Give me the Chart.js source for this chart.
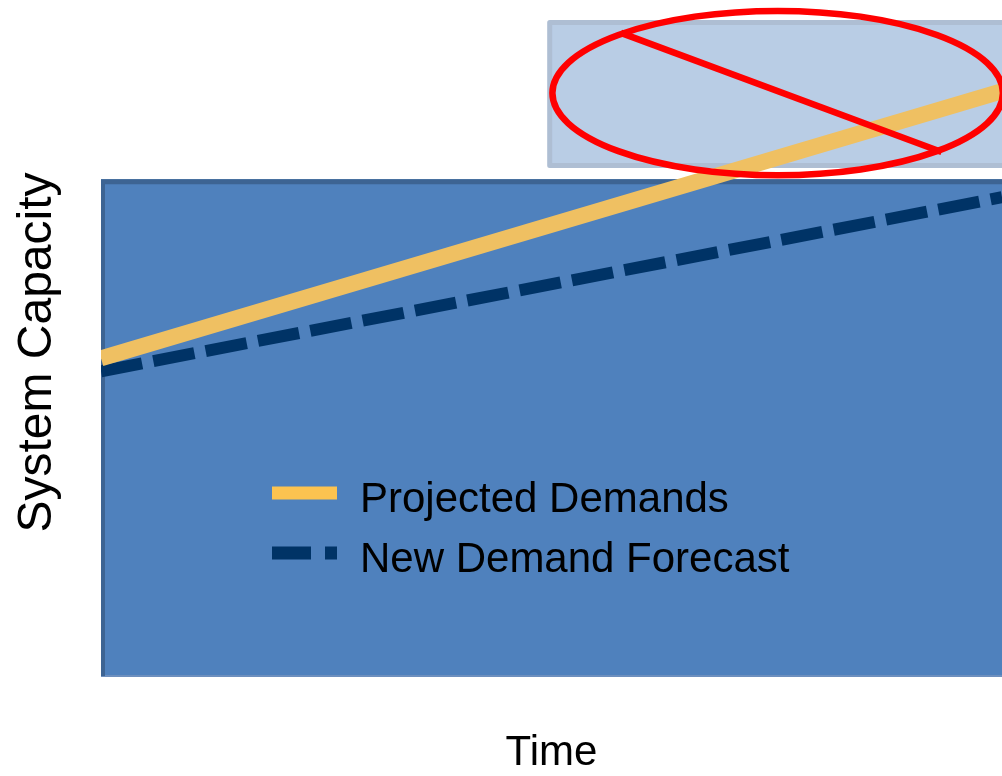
<!DOCTYPE html>
<html>
<head>
<meta charset="utf-8">
<script src="https://cdn.jsdelivr.net/npm/chart.js@4/dist/chart.umd.min.js"></script>
<style>
  html, body { margin: 0; padding: 0; background: #ffffff; }
  #wrap { width: 1002px; height: 776px; }
</style>
</head>
<body>
<div id="wrap"><canvas id="capacityChart"></canvas></div>
<script>
// Axis ranges (arbitrary units: time on x, capacity on y)
const timeRange = [0, 10];
const capacityRange = [0, 100];

// Demand series
const seriesLabels = ['Projected Demands', 'New Demand Forecast'];
const timePoints = [0, 10];
const projectedDemands = [49.1, 90.4];
const newDemandForecast = [47.1, 74.0];

// Capacity blocks: [start, end] in time, [bottom, top] in capacity
const existingCapacityTime = [0, 10];
const existingCapacityLevel = [0, 76.4];
const additionalCapacityTime = [4.98, 10.3];
const additionalCapacityLevel = [78.9, 101.0];

// "Not needed" mark over the additional capacity block
const crossOutCenter = [7.51, 90.1];   // [time, capacity]
const crossOutRadius = [2.50, 12.7];   // [time, capacity]
const crossOutSlashTime = [5.77, 9.33];
const crossOutSlashLevel = [99.4, 81.0];

const FONT = '"Liberation Sans", Arial, Helvetica, sans-serif';

const capacityArt = {
  id: 'capacityArt',
  beforeDatasetsDraw(chart) {
    const { ctx, scales: { x, y } } = chart;
    ctx.save();

    // additional capacity block (light)
    const ax0 = x.getPixelForValue(additionalCapacityTime[0]);
    const ax1 = x.getPixelForValue(additionalCapacityTime[1]);
    const ayB = y.getPixelForValue(additionalCapacityLevel[0]);
    const ayT = y.getPixelForValue(additionalCapacityLevel[1]);
    ctx.fillStyle = '#b9cde5';
    ctx.fillRect(ax0, ayT, ax1 - ax0, ayB - ayT);
    ctx.strokeStyle = '#aebed3';
    ctx.lineWidth = 5;
    ctx.lineJoin = 'round';
    ctx.strokeRect(ax0, ayT, ax1 - ax0, ayB - ayT);

    // existing capacity block
    const ex0 = x.getPixelForValue(existingCapacityTime[0]);
    const ex1 = x.getPixelForValue(existingCapacityTime[1]);
    const eyB = y.getPixelForValue(existingCapacityLevel[0]);
    const eyT = y.getPixelForValue(existingCapacityLevel[1]);
    ctx.fillStyle = '#4f81bd';
    ctx.fillRect(ex0, eyT - 2.5, ex1 - ex0, eyB - eyT + 3.5);
    ctx.lineJoin = 'miter';
    ctx.strokeStyle = '#6d8fbe';
    ctx.lineWidth = 2;
    ctx.beginPath();
    ctx.moveTo(ex0, eyB);
    ctx.lineTo(ex1, eyB);
    ctx.stroke();
    ctx.strokeStyle = '#3d6493';
    ctx.lineWidth = 4;
    ctx.beginPath();
    ctx.moveTo(ex0 + 2, eyB);
    ctx.lineTo(ex0 + 2, eyT);
    ctx.stroke();
    ctx.lineWidth = 5;
    ctx.beginPath();
    ctx.moveTo(ex0, eyT);
    ctx.lineTo(ex1, eyT);
    ctx.stroke();

    ctx.restore();
  },
  afterDatasetsDraw(chart) {
    const { ctx, scales: { x, y } } = chart;
    ctx.save();

    // red ellipse with slash
    const cx = x.getPixelForValue(crossOutCenter[0]);
    const cy = y.getPixelForValue(crossOutCenter[1]);
    const rx = x.getPixelForValue(crossOutCenter[0] + crossOutRadius[0]) - cx;
    const ry = cy - y.getPixelForValue(crossOutCenter[1] + crossOutRadius[1]);
    ctx.strokeStyle = '#ff0000';
    ctx.lineWidth = 6.5;
    ctx.beginPath();
    ctx.ellipse(cx, cy, rx, ry, 0, 0, Math.PI * 2);
    ctx.stroke();
    ctx.beginPath();
    ctx.moveTo(x.getPixelForValue(crossOutSlashTime[0]), y.getPixelForValue(crossOutSlashLevel[0]));
    ctx.lineTo(x.getPixelForValue(crossOutSlashTime[1]), y.getPixelForValue(crossOutSlashLevel[1]));
    ctx.stroke();

    // legend inside the plot
    const opts = chart.options.plugins.capacityArt;
    chart.data.datasets.forEach((ds, i) => {
      const rowY = opts.rows[i];
      ctx.strokeStyle = ds.legendColor || ds.borderColor;
      ctx.lineWidth = opts.sampleWidth;
      ctx.lineCap = 'butt';
      ctx.setLineDash(ds.legendDash || []);
      ctx.beginPath();
      ctx.moveTo(opts.sampleX[0], rowY);
      ctx.lineTo(opts.sampleX[1], rowY);
      ctx.stroke();
      ctx.setLineDash([]);
      ctx.fillStyle = '#000000';
      ctx.font = '42px ' + FONT;
      ctx.textAlign = 'left';
      ctx.textBaseline = 'alphabetic';
      ctx.fillText(ds.label, opts.textX, rowY + opts.baselineOffset);
    });
    ctx.restore();
  }
};

const toPoints = (xs, ys) => xs.map((t, i) => ({ x: t, y: ys[i] }));

new Chart(document.getElementById('capacityChart'), {
  type: 'line',
  data: {
    datasets: [
      {
        label: seriesLabels[0],
        data: toPoints(timePoints, projectedDemands),
        borderColor: '#efc062',
        legendColor: '#fcc350',
        borderWidth: 16,
        borderCapStyle: 'butt',
        pointRadius: 0,
        tension: 0,
        fill: false
      },
      {
        label: seriesLabels[1],
        data: toPoints(timePoints, newDemandForecast),
        borderColor: '#003366',
        borderWidth: 12,
        borderDash: [41.8, 11.5],
        legendDash: [39, 14],
        borderCapStyle: 'butt',
        pointRadius: 0,
        tension: 0,
        fill: false
      }
    ]
  },
  options: {
    responsive: true,
    maintainAspectRatio: false,
    animation: false,
    devicePixelRatio: 1,
    layout: { padding: { top: 29, left: 0, right: 0, bottom: 0 } },
    scales: {
      x: {
        type: 'linear',
        min: timeRange[0],
        max: timeRange[1],
        grid: { display: false, drawTicks: false },
        border: { display: false },
        ticks: { display: false },
        title: {
          display: true,
          text: 'Time',
          color: '#000000',
          font: { family: FONT, size: 42, lineHeight: 1.1 },
          padding: { top: 54.3, bottom: -0.5 }
        }
      },
      y: {
        type: 'linear',
        min: capacityRange[0],
        max: capacityRange[1],
        grid: { display: false, drawTicks: false },
        border: { display: false },
        ticks: { display: false },
        title: {
          display: true,
          text: 'System Capacity',
          color: '#000000',
          font: { family: FONT, size: 48, lineHeight: 1.2 },
          padding: { top: 8.6, bottom: 34.8 }
        }
      }
    },
    plugins: {
      legend: { display: false },
      tooltip: { enabled: false },
      capacityArt: {
        rows: [493, 553],
        sampleX: [272, 337],
        sampleWidth: 13,
        textX: 360,
        baselineOffset: 18.5
      }
    }
  },
  plugins: [capacityArt]
});
</script>
</body>
</html>
